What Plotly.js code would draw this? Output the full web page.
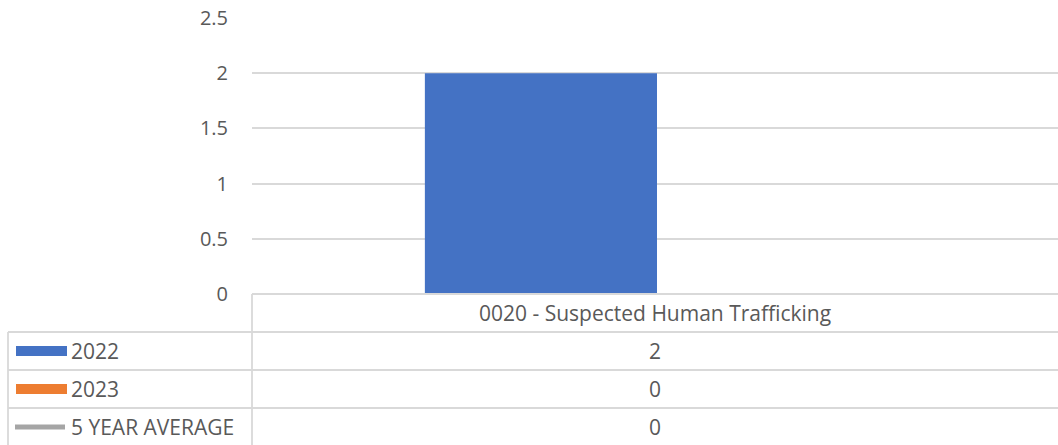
<!DOCTYPE html>
<html>
<head>
<meta charset="utf-8">
<script src="https://cdn.plot.ly/plotly-3.0.1.min.js"></script>
<style>
html,body{margin:0;padding:0;background:#fff;}
#chart{width:1058px;height:445px;}
</style>
</head>
<body>
<div id="chart"></div>
<script>
// ---- data ----
const categories = ["0020 - Suspected Human Trafficking"];
const seriesNames = ["2022", "2023", "5 YEAR AVERAGE"];
const values2022 = [2];
const values2023 = [0];
const valuesAvg = [0];
const yTickVals = [0, 0.5, 1, 1.5, 2, 2.5];
const yTickText = ["0", "0.5", "1", "1.5", "2", "2.5"];

// ---- styling ----
const W = 1058, H = 445;
const L = 252, R = 0, T = 18, B = 151;
const plotW = W - L - R, plotH = H - T - B;
const xp = px => (px - L) / plotW;
const yp = py => (H - B - py) / plotH;
const txtColor = "#595959";
const lineColor = "#d9d9d9";
const FONT = "'Open Sans', Lato, sans-serif";
const FS = 20;
const FT = 21;
const colors = ["#4472C4", "#ED7D31", "#A5A5A5"];

const traces = [
  {type: "bar", name: seriesNames[0], x: categories, y: values2022, marker: {color: colors[0]}, showlegend: false, hoverinfo: "skip"},
  {type: "bar", name: seriesNames[1], x: categories, y: values2023, marker: {color: colors[1]}, showlegend: false, hoverinfo: "skip"},
  {type: "scatter", mode: "lines", name: seriesNames[2], x: categories, y: valuesAvg, line: {color: colors[2], width: 4}, showlegend: false, hoverinfo: "skip"}
];

// data table
const rowTops = [294, 332, 370, 408];
const rowH = 38;
const shapes = [];
const annotations = [];
const ln = {color: lineColor, width: 1.8};
shapes.push({type: "line", xref: "paper", yref: "paper", x0: xp(L), x1: xp(W), y0: yp(294), y1: yp(294), line: ln});
for (let i = 1; i < rowTops.length; i++) {
  shapes.push({type: "line", xref: "paper", yref: "paper", x0: xp(8), x1: xp(W), y0: yp(rowTops[i]), y1: yp(rowTops[i]), line: ln});
}
shapes.push({type: "line", xref: "paper", yref: "paper", x0: xp(L), x1: xp(L), y0: yp(294), y1: yp(H), line: ln});
shapes.push({type: "line", xref: "paper", yref: "paper", x0: xp(8), x1: xp(8), y0: yp(332), y1: yp(H), line: ln});

annotations.push({xref: "paper", yref: "paper", x: xp((L + W) / 2), y: yp(313), text: categories[0], showarrow: false,
  xanchor: "center", yanchor: "middle", font: {family: FONT, size: FT, color: txtColor}});

const tableVals = [values2022, values2023, valuesAvg];
for (let s = 0; s < 3; s++) {
  const cy = rowTops[s + 1] + rowH / 2;
  if (s < 2) {
    shapes.push({type: "rect", xref: "paper", yref: "paper", x0: xp(16), x1: xp(67), y0: yp(cy - 5), y1: yp(cy + 5),
      fillcolor: colors[s], line: {width: 0}});
  } else {
    shapes.push({type: "line", xref: "paper", yref: "paper", x0: xp(15), x1: xp(65), y0: yp(cy), y1: yp(cy),
      line: {color: colors[s], width: 5}});
  }
  annotations.push({xref: "paper", yref: "paper", x: xp(69), y: yp(cy), text: seriesNames[s], showarrow: false,
    xanchor: "left", yanchor: "middle", font: {family: FONT, size: FT, color: txtColor}});
  annotations.push({xref: "paper", yref: "paper", x: xp((L + W) / 2), y: yp(cy), text: String(tableVals[s][0]), showarrow: false,
    xanchor: "center", yanchor: "middle", font: {family: FONT, size: FT, color: txtColor}});
}

const shift = 2 / plotW;
const layout = {
  width: W, height: H,
  margin: {l: L, r: R, t: T, b: B, pad: 0},
  paper_bgcolor: "#ffffff", plot_bgcolor: "#ffffff",
  barmode: "group", bargap: 0.424, bargroupgap: 0,
  showlegend: false,
  xaxis: {range: [-0.5 - shift, 0.5 - shift], showticklabels: false, showgrid: false, zeroline: false, showline: false, ticks: ""},
  yaxis: {range: [0, 2.5], tickvals: yTickVals, ticktext: yTickText, showgrid: true, gridcolor: lineColor, gridwidth: 1.8,
    zeroline: false, showline: false, ticks: "", ticklabelstandoff: 23,
    tickfont: {family: FONT, size: FS, color: txtColor}},
  shapes: shapes,
  annotations: annotations
};

Plotly.newPlot("chart", traces, layout, {displayModeBar: false, staticPlot: true});
</script>
</body>
</html>
